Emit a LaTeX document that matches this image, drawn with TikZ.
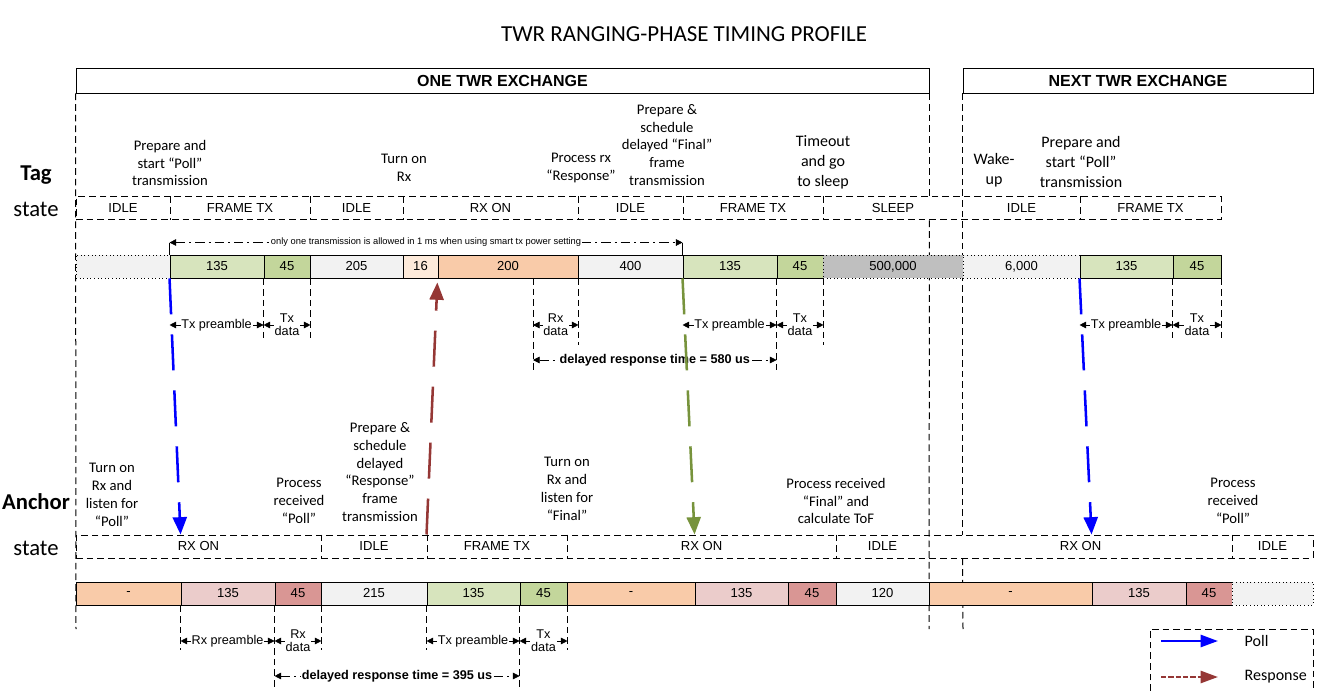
\documentclass[tikz,border=0pt]{standalone}
\usepackage{fontspec}
\setmainfont{Carlito}
\newfontfamily\arialf{Liberation Sans}
\usetikzlibrary{arrows.meta}

\definecolor{gA}{HTML}{D7E4BD}
\definecolor{gB}{HTML}{C3D69B}
\definecolor{lg}{HTML}{F2F2F2}
\definecolor{dg}{HTML}{BFBFBF}
\definecolor{oA}{HTML}{FDEADA}
\definecolor{oB}{HTML}{F9CBA9}
\definecolor{pA}{HTML}{EBCCCB}
\definecolor{pB}{HTML}{D99694}
\definecolor{pollc}{HTML}{0000FF}
\definecolor{respc}{HTML}{953735}
\definecolor{finc}{HTML}{77933C}

\tikzset{
  dsh/.style={line width=0.75pt, dash pattern=on 5pt off 3pt},
  seg/.style={draw, line width=0.7pt, inner sep=0pt, minimum height=17.25pt, font=\arialf\fontsize{9.8}{11}\selectfont},
  stt/.style={inner sep=0pt, font=\arialf\fontsize{9.8}{11}\selectfont},
  note/.style={align=center, inner sep=0pt, font=\fontsize{11}{13.4}\selectfont},
  bignote/.style={align=center, inner sep=0pt, font=\fontsize{12}{15}\selectfont},
  hdr/.style={draw, line width=0.7pt, fill=white, inner sep=0pt, minimum height=18.75pt, font=\arialf\bfseries\fontsize{12}{14}\selectfont},
  dim/.style={{Triangle[length=5pt,width=5pt]}-{Triangle[length=5pt,width=5pt]}, line width=0.5pt},
  dimdd/.style={dim, dash pattern=on 7pt off 3pt on 1.5pt off 3pt},
  dimlbl/.style={fill=white, inner sep=0.6pt, align=center, font=\arialf\fontsize{9.5}{10}\selectfont},
  msg/.style={line width=1.9pt, dash pattern=on 27pt off 15pt, -{Triangle[length=13pt,width=10.5pt]}}
}

\begin{document}
\begin{tikzpicture}[x=0.75pt, y=-0.75pt]
\useasboundingbox (0,0) rectangle (1321,691);

\node[font=\fontsize{17.2}{20}\selectfont] (title) at (684,34) {TWR RANGING-PHASE TIMING PROFILE};
\node[hdr, minimum width=639.75pt] (one) at (502.5,80.5) {ONE TWR EXCHANGE};
\node[hdr, minimum width=262.5pt] (next) at (1138,80.5) {NEXT TWR EXCHANGE};

\node[font=\bfseries\fontsize{17}{20}\selectfont] (tag) at (36,175) {Tag};
\node[font=\fontsize{17}{20}\selectfont] (tagst) at (36,209) {state};
\node[font=\bfseries\fontsize{17}{20}\selectfont] (anc) at (36,502) {Anchor};
\node[font=\fontsize{17}{20}\selectfont] (ancst) at (36,548) {state};

% state rows
\node[draw, dsh, inner sep=0pt, minimum width=858.75pt, minimum height=17.25pt] (tsrow) at (648.5,208.5) {};
\node[draw, dsh, inner sep=0pt, minimum width=927.75pt, minimum height=17.25pt] (asrow) at (694.5,546.5) {};

% exchange borders
\draw[dsh] (one.south west) -- (76,629);
\draw[dsh] (one.south east) -- (tsrow.north -| one.south east);
\draw[dsh] (tsrow.south -| one.south east) -- (929,629);
\draw[dsh] (next.south west) -- (asrow.north -| next.south west);
\draw[dsh] (asrow.south -| next.south west) -- (963,629);

\foreach \x in {170,310,403,578,683,823,1080}
  \draw[dsh] (tsrow.north -| \x,0) -- (tsrow.south -| \x,0);
\foreach \x in {321,427,567,836,1232}
  \draw[dsh] (asrow.north -| \x,0) -- (asrow.south -| \x,0);

\foreach \a/\b/\t [count=\i] in {76/170/IDLE, 170/310/FRAME TX, 310/403/IDLE, 403/578/RX ON, 578/683/IDLE, 683/823/FRAME TX, 823/963/SLEEP, 963/1080/IDLE, 1080/1221/FRAME TX}
  \node[stt] (ts\i) at ({(\a+\b)/2},208.5) {\t};
\foreach \a/\b/\t [count=\i] in {76/321/RX ON, 321/427/IDLE, 427/567/FRAME TX, 567/836/RX ON, 836/929/IDLE, 929/1232/RX ON, 1232/1313/IDLE}
  \node[stt] (as\i) at ({(\a+\b)/2},546.5) {\t};

% timing bars
\foreach \a/\b/\c/\d/\t [count=\i] in {76/170/lg/dotted/{}, 170/264/gA/solid/135, 264/310/gB/solid/45, 310/403/lg/solid/205, 403/438/oA/solid/16, 438/578/oB/solid/200, 578/683/lg/solid/400, 683/777/gA/solid/135, 777/823/gB/solid/45, 823/963/dg/dotted/{500,000}, 963/1080/lg/dotted/{6,000}, 1080/1173/gA/solid/135, 1173/1221/gB/solid/45}
  \node[seg, fill=\c, \d, minimum width={(\b-\a)*0.75pt}] (tb\i) at ({(\a+\b)/2},266.5) {\t};
\foreach \a/\b/\c/\d/\t [count=\i] in {76/181/oB/solid/-, 181/275/pA/solid/135, 275/321/pB/solid/45, 321/427/lg/solid/215, 427/520/gA/solid/135, 520/567/gB/solid/45, 567/695/oB/solid/-, 695/788/pA/solid/135, 788/836/pB/solid/45, 836/929/lg/solid/120, 929/1092/oB/solid/-, 1092/1186/pA/solid/135, 1186/1232/pB/solid/45, 1232/1313/lg/dotted/{}}
  \node[seg, fill=\c, \d, minimum width={(\b-\a)*0.75pt}] (ab\i) at ({(\a+\b)/2},593.5) {\t};

% one transmission per ms
\draw[line width=0.5pt] (tb2.north west) -- ++(0,-12) coordinate (lim1);
\draw[line width=0.5pt] (tb8.north west) -- ++(0,-12) coordinate (lim2);
\draw[dimdd] (lim1) -- (lim2) node[midway, fill=white, inner sep=0.8pt, font=\arialf\fontsize{7}{8}\selectfont] (lim) {only one transmission is allowed in 1 ms when using smart tx power setting};

% tag ticks and spans
\coordinate (rxd) at (533,278);
\foreach \n/\l in {tb3.south west/60, tb3.south east/60, rxd/94, tb6.south east/67, tb9.south west/94, tb9.south east/67, tb13.south west/60, tb13.south east/60}
  \draw[dsh] (\n) -- ++(0,\l);
\draw[dim] (tb2.west |- 0,325) -- (tb3.west |- 0,325) node[midway, dimlbl] (tpre1) {Tx preamble};
\draw[dim] (tb3.west |- 0,325) -- (tb3.east |- 0,325) node[midway, dimlbl] (tdat1) {Tx\\data};
\draw[dim] (rxd |- 0,325) -- (tb6.east |- 0,325) node[midway, dimlbl] (trx) {Rx\\data};
\draw[dim] (tb8.west |- 0,325) -- (tb9.west |- 0,325) node[midway, dimlbl] (tpre2) {Tx preamble};
\draw[dim] (tb9.west |- 0,325) -- (tb9.east |- 0,325) node[midway, dimlbl] (tdat2) {Tx\\data};
\draw[dim] (tb12.west |- 0,325) -- (tb13.west |- 0,325) node[midway, dimlbl] (tpre3) {Tx preamble};
\draw[dim] (tb13.west |- 0,325) -- (tb13.east |- 0,325) node[midway, dimlbl] (tdat3) {Tx\\data};
\draw[dimdd] (rxd |- 0,360) -- (tb9.west |- 0,360) node[midway, dimlbl, font=\arialf\bfseries\fontsize{9.5}{10}\selectfont] (tdly) {delayed response time = 580 us};

% anchor ticks and spans
\foreach \n/\l in {ab2.south west/45, ab3.south west/82, ab3.south east/45, ab5.south west/45, ab6.south west/82, ab6.south east/45}
  \draw[dsh] (\n) -- ++(0,\l);
\draw[dim] (ab2.west |- 0,641) -- (ab3.west |- 0,641) node[midway, dimlbl] (apre1) {Rx preamble};
\draw[dim] (ab3.west |- 0,641) -- (ab3.east |- 0,641) node[midway, dimlbl] (adat1) {Rx\\data};
\draw[dim] (ab5.west |- 0,641) -- (ab6.west |- 0,641) node[midway, dimlbl] (apre2) {Tx preamble};
\draw[dim] (ab6.west |- 0,641) -- (ab6.east |- 0,641) node[midway, dimlbl] (adat2) {Tx\\data};
\draw[dimdd] (ab3.west |- 0,676) -- (ab6.west |- 0,676) node[midway, dimlbl, font=\arialf\bfseries\fontsize{9.5}{10}\selectfont] (adly) {delayed response time = 395 us};

% tag notes
\node[note] (tn1) at (170,163) {Prepare and\\start “Poll”\\transmission};
\node[note] (tn2) at (404,168) {Turn on\\Rx};
\node[note] (tn3) at (581,168) {Process rx\\“Response”};
\node[note] (tn4) at (667,145) {Prepare \&\\schedule\\delayed “Final”\\frame\\transmission};
\node[bignote] (tn5) at (823,162) {Timeout\\and go\\to sleep};
\node[bignote] (tn6) at (994,170) {Wake-\\up};
\node[bignote] (tn7) at (1081,162) {Prepare and\\start “Poll”\\transmission};

% anchor notes
\node[note] (an1) at (112,495) {Turn on\\Rx and\\listen for\\“Poll”};
\node[note] (an2) at (299,501) {Process\\received\\“Poll”};
\node[note] (an3) at (380,472) {Prepare \&\\schedule\\delayed\\“Response”\\frame\\transmission};
\node[note] (an4) at (567,489) {Turn on\\Rx and\\listen for\\“Final”};
\node[note] (an5) at (836,501) {Process received\\“Final” and\\calculate ToF};
\node[note] (an6) at (1233,501) {Process\\received\\“Poll”};

% messages
\draw[msg, pollc] (tb2.south west) -- (ab2.west |- asrow.north);
\draw[msg, respc, shorten >=3pt] (ab5.west |- asrow.north) -- (tb6.south west);
\draw[msg, finc] (tb8.south west) -- (ab8.west |- asrow.north);
\draw[msg, pollc] (tb12.south west) -- (ab12.west |- asrow.north);

% legend
\draw[dsh] (1150,691) -- (1150,629) -- (1313,629) -- (1313,691);
\coordinate (lp1) at (1161,641);
\coordinate (lp2) at (1218,641);
\coordinate (lr1) at (1161,677);
\coordinate (lr2) at (1218,677);
\draw[pollc, line width=1.9pt, -{Triangle[length=13pt,width=9pt]}] (lp1) -- (lp2);
\draw[respc, line width=1.9pt, dash pattern=on 4pt off 1.5pt, -{Triangle[length=13pt,width=9pt]}] (lr1) -- (lr2);
\node[anchor=west, font=\fontsize{12}{14}\selectfont] (lpoll) at (1240,641) {Poll};
\node[anchor=west, font=\fontsize{12}{14}\selectfont] (lresp) at (1240,677) {Response};
\end{tikzpicture}
\end{document}
